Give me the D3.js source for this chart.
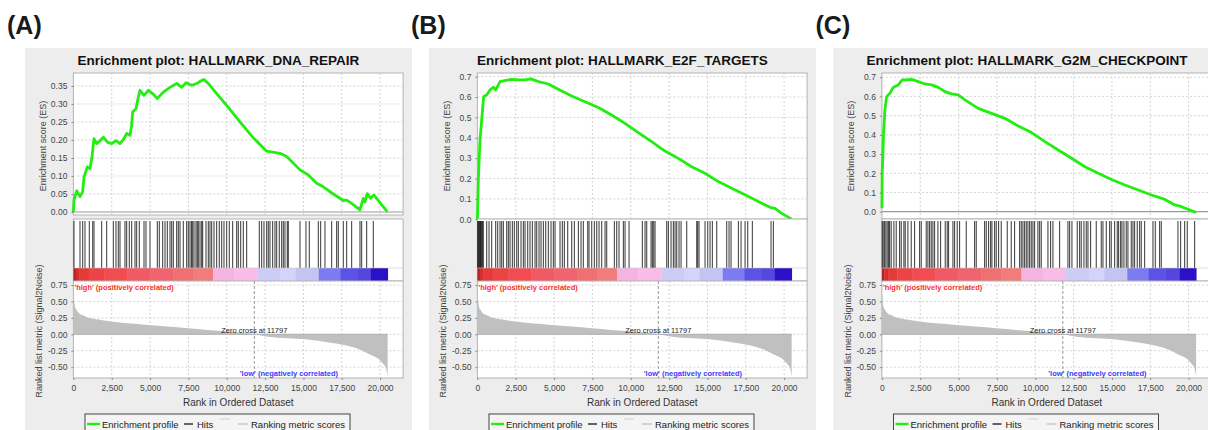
<!DOCTYPE html>
<html><head><meta charset="utf-8">
<script src="https://cdn.jsdelivr.net/npm/d3@7"></script>
<style>
body{margin:0;background:#fff;}
svg{display:block;font-family:"Liberation Sans",Arial,sans-serif;}
</style>
</head><body>
<svg id="c" width="1208" height="430"></svg>
<script>
// ---------------- DATA ----------------
const panelLabels = ["(A)", "(B)", "(C)"];
const titles = ["Enrichment plot: HALLMARK_DNA_REPAIR", "Enrichment plot: HALLMARK_E2F_TARGETS", "Enrichment plot: HALLMARK_G2M_CHECKPOINT"];
const totalGenes = 20500;
const zeroCross = 11797;
const xTickValues = [0, 2500, 5000, 7500, 10000, 12500, 15000, 17500, 20000];
const xTickLabels = ["0", "2,500", "5,000", "7,500", "10,000", "12,500", "15,000", "17,500", "20,000"];
const esTickValuesA = [0, 0.05, 0.10, 0.15, 0.20, 0.25, 0.30, 0.35];
const esTickLabelsA = ["0.00", "0.05", "0.10", "0.15", "0.20", "0.25", "0.30", "0.35"];
const esTickValuesBC = [0, 0.1, 0.2, 0.3, 0.4, 0.5, 0.6, 0.7];
const esTickLabelsBC = ["0.0", "0.1", "0.2", "0.3", "0.4", "0.5", "0.6", "0.7"];
const metricTickValues = [0.75, 0.5, 0.25, 0, -0.25, -0.5];
const metricTickLabels = ["0.75", "0.50", "0.25", "0.00", "-0.25", "-0.50"];

// ranked list metric (Signal2Noise), shared by all three panels
const metricRanks = [0, 20, 60, 104, 180, 280, 420, 606, 850, 1148, 1800, 2451, 3538, 4843, 6146, 7452, 8755, 10060, 11364, 11797, 12668, 13972, 15276, 16580, 17884, 18751, 19403, 19840, 20166, 20382, 20492];
const metricValues = [0.63, 0.598, 0.5, 0.42, 0.38, 0.344, 0.31, 0.293, 0.265, 0.243, 0.218, 0.193, 0.167, 0.142, 0.117, 0.091, 0.066, 0.041, 0.015, 0, -0.036, -0.061, -0.08, -0.12, -0.175, -0.239, -0.315, -0.366, -0.442, -0.518, -0.64];

// running enrichment scores
const esRanksA = [0, 39, 215, 430, 605, 691, 906, 1082, 1213, 1343, 1517, 1734, 1951, 2212, 2496, 2777, 3038, 3299, 3473, 3690, 3799, 3864, 4082, 4233, 4342, 4603, 4884, 5170, 5470, 5861, 6298, 6735, 7061, 7342, 7713, 8039, 8365, 8515, 8796, 9343, 9995, 10862, 11729, 12603, 13470, 13907, 14774, 15317, 15862, 16296, 16948, 17598, 17818, 18144, 18686, 18903, 19012, 19163, 19382, 19600, 20466];
const esValuesA = [0, 0.033, 0.059, 0.043, 0.056, 0.097, 0.125, 0.120, 0.153, 0.204, 0.190, 0.198, 0.208, 0.194, 0.190, 0.198, 0.190, 0.204, 0.218, 0.213, 0.241, 0.278, 0.287, 0.319, 0.338, 0.324, 0.338, 0.329, 0.315, 0.333, 0.346, 0.357, 0.346, 0.359, 0.352, 0.357, 0.365, 0.368, 0.357, 0.329, 0.296, 0.250, 0.206, 0.169, 0.163, 0.154, 0.117, 0.103, 0.080, 0.070, 0.050, 0.032, 0.033, 0.024, 0.006, 0.038, 0.028, 0.051, 0.038, 0.047, 0.001];

const esRanksB = [0, 60, 170, 280, 410, 606, 822, 1037, 1193, 1474, 1800, 2236, 2670, 3103, 3494, 3973, 4623, 5275, 6146, 7015, 7883, 8755, 9623, 10490, 11364, 12231, 13099, 13972, 14840, 15707, 16580, 17448, 18315, 19078, 19403, 19840, 20492];
const esValuesB = [0, 0.193, 0.389, 0.488, 0.603, 0.610, 0.635, 0.648, 0.635, 0.676, 0.681, 0.687, 0.684, 0.684, 0.689, 0.676, 0.664, 0.638, 0.605, 0.577, 0.549, 0.512, 0.471, 0.425, 0.381, 0.335, 0.299, 0.258, 0.226, 0.185, 0.152, 0.120, 0.087, 0.059, 0.054, 0.029, 0.001];

const esRanksC = [0, 20, 110, 196, 306, 522, 737, 1063, 1325, 1610, 1936, 2369, 2804, 3238, 3673, 4108, 4542, 4977, 5412, 6281, 7150, 8020, 8889, 9758, 10628, 11497, 12366, 13236, 14105, 14974, 15844, 16713, 17582, 18452, 19104, 19540, 19975, 20408, 20480];
const esValuesC = [0.018, 0.2, 0.408, 0.529, 0.599, 0.616, 0.647, 0.660, 0.686, 0.686, 0.689, 0.677, 0.665, 0.660, 0.647, 0.625, 0.613, 0.608, 0.582, 0.538, 0.512, 0.486, 0.446, 0.412, 0.365, 0.321, 0.278, 0.234, 0.200, 0.168, 0.139, 0.113, 0.087, 0.064, 0.035, 0.026, 0.012, -0.002, 0.004];

// gene set member positions (hits) in the ranked list
const hitsA = [39, 430, 604, 756, 1039, 1256, 1344, 1843, 2169, 2604, 2777, 2930, 3039, 3365, 3473, 3647, 3799, 4017, 4125, 4299, 4604, 4734, 4995, 5473, 5603, 5820, 5973, 6125, 6299, 6407, 6516, 6733, 6842, 6951, 7168, 7386, 7494, 7603, 7700, 7776, 7864, 7994, 8080, 8146, 8255, 8364, 8428, 8646, 8798, 8907, 9016, 9168, 9342, 9515, 9668, 9820, 9994, 10167, 10385, 10646, 10754, 10907, 11080, 11298, 12123, 12276, 12428, 12602, 12710, 12819, 12993, 13145, 13254, 13427, 13580, 13689, 13797, 13950, 14015, 14775, 15166, 15383, 15971, 16123, 16405, 16840, 17166, 17275, 17601, 17818, 18144, 18688, 18796, 19122, 19557];
const hitsB = [20, 62, 110, 149, 200, 236, 290, 322, 388, 605, 757, 932, 1192, 1323, 1475, 1584, 1693, 1910, 2018, 2127, 2280, 2410, 2562, 2671, 2845, 2997, 3106, 3280, 3432, 3584, 3758, 3867, 4019, 4149, 4302, 4454, 4627, 4801, 4953, 5062, 5388, 5540, 5671, 5889, 6150, 6323, 6585, 6758, 6910, 7193, 7279, 7454, 7628, 7780, 7932, 8106, 8324, 8432, 8932, 9084, 9236, 9519, 9628, 9888, 10758, 10932, 11040, 11323, 11410, 11498, 11584, 12345, 12454, 12627, 12780, 12889, 12998, 13150, 13280, 13649, 14302, 14367, 14454, 14845, 15019, 15171, 15323, 15606, 16258, 16410, 16541, 17020, 17193, 17454, 17628, 17931, 19149, 19302];
const hitsC = [20, 87, 174, 260, 347, 435, 500, 608, 782, 935, 1152, 1261, 1434, 1522, 1695, 1913, 2130, 2457, 2565, 2892, 3000, 3109, 3217, 3326, 3435, 3652, 3827, 4131, 4261, 4348, 4631, 4739, 4913, 5066, 5501, 6044, 6153, 6696, 6805, 6957, 7087, 7175, 7348, 7457, 7609, 7783, 8174, 8435, 8652, 8979, 9087, 9196, 9305, 9414, 9522, 9631, 9740, 9849, 9957, 10174, 10284, 10392, 10827, 11000, 11153, 11588, 12131, 12240, 12392, 12739, 12892, 13001, 13174, 13327, 13436, 13609, 13979, 14305, 14414, 14632, 14849, 14957, 15175, 15348, 15436, 15566, 15653, 15783, 15936, 16044, 16262, 16371, 16479, 16653, 16806, 16914, 17132, 17676, 17828, 18109, 18219, 19306, 19479, 19741, 19914, 20393];

// heat-map bar along the ranked list
const colorBarBreaks = [0, 150, 400, 1000, 2000, 3500, 5000, 6500, 7800, 9100, 10500, 12000, 13500, 14500, 16000, 17400, 18500, 19400, 20500];
const colorBarColors = ["#b42424", "#d42e2e", "#e43a3a", "#ec4444", "#f04c52", "#f05a64", "#f06470", "#ee7070", "#f07c7c", "#f4b4e2", "#f8bce6", "#ccccf6", "#d4d4fa", "#c4c4f2", "#7c7cf2", "#5c52e4", "#5446de", "#2c10c8"];

// ---------------- DRAWING ----------------
const svg = d3.select("#c");
const panels = [
  {dx: 0, esR: esRanksA, esV: esValuesA, hits: hitsA, esTicks: esTickValuesA, esLabels: esTickLabelsA, esDomain: [-0.0083, 0.386], esBottom: 215},
  {dx: 404, esR: esRanksB, esV: esValuesB, hits: hitsB, esTicks: esTickValuesBC, esLabels: esTickLabelsBC, esDomain: [-0.0034, 0.718], esBottom: 220},
  {dx: 808.5, esR: esRanksC, esV: esValuesC, hits: hitsC, esTicks: esTickValuesBC, esLabels: esTickLabelsBC, esDomain: [-0.038, 0.722], esBottom: 219}
];
const X0 = 73.4, X1 = 403.1;
const ES_TOP = 73, HITS_TOP = 221, HITS_BOT = 268, CB_BOT = 281, M_TOP = 281, M_BOT = 378;
const FONT = '"Liberation Sans",Arial,sans-serif';

panels.forEach((p, i) => {
  const g = svg.append("g").attr("transform", `translate(${p.dx},0)`);
  g.append("rect").attr("x", 25).attr("y", 48).attr("width", 387).attr("height", 400).attr("fill", "#ededed");
  g.append("text").attr("x", 7).attr("y", 34).text(panelLabels[i])
    .style("font-size", "25px").style("font-weight", "bold").attr("fill", "#1a1a1a");
  g.append("text").attr("x", 218.5).attr("y", 65).attr("text-anchor", "middle").text(titles[i])
    .style("font-size", "13.5px").style("font-weight", "bold").attr("fill", "#111");

  const x = d3.scaleLinear().domain([0, 21500]).range([X0, X1]);
  const yES = d3.scaleLinear().domain(p.esDomain).range([p.esBottom, ES_TOP]);
  const yM = d3.scaleLinear().domain([-0.665, 0.811]).range([M_BOT, M_TOP]);

  // ---- ES plot ----
  g.append("rect").attr("x", X0).attr("y", ES_TOP).attr("width", X1 - X0).attr("height", p.esBottom - ES_TOP)
    .attr("fill", "#fff").attr("stroke", "#b4b4b4").attr("stroke-width", 1);
  g.selectAll(".vgES").data(xTickValues.slice(1)).join("line")
    .attr("x1", d => x(d)).attr("x2", d => x(d)).attr("y1", ES_TOP).attr("y2", p.esBottom)
    .attr("stroke", "#d4d4d4").attr("stroke-dasharray", "2,2");
  g.selectAll(".hgES").data(p.esTicks.slice(1)).join("line")
    .attr("x1", X0).attr("x2", X1).attr("y1", d => yES(d)).attr("y2", d => yES(d))
    .attr("stroke", "#d4d4d4").attr("stroke-dasharray", "2,2");
  g.append("line").attr("x1", X0).attr("x2", X1).attr("y1", yES(0)).attr("y2", yES(0))
    .attr("stroke", "#9a9a9a").attr("stroke-width", 1.2);
  const esPts = p.esR.map((r, k) => [r, p.esV[k]]);
  g.append("path").datum(esPts)
    .attr("d", d3.line().x(d => x(d[0])).y(d => yES(d[1])))
    .attr("fill", "none").attr("stroke", "#22ee11").attr("stroke-width", 2.8).attr("stroke-linejoin", "round");
  const axES = d3.axisLeft(yES).tickValues(p.esTicks).tickFormat((d, k) => p.esLabels[k]).tickSize(2).tickPadding(4);
  const gES = g.append("g").attr("transform", `translate(${X0},0)`).call(axES);
  gES.select(".domain").remove();
  gES.selectAll("text").style("font-size", "8.5px").attr("fill", "#444").style("font-family", FONT);
  gES.selectAll("line").attr("stroke", "#888");
  g.append("text").attr("transform", `translate(45.5,146) rotate(-90)`).attr("text-anchor", "middle")
    .text("Enrichment score (ES)").style("font-size", "9px").attr("fill", "#444");

  // ---- hits ----
  g.append("rect").attr("x", X0).attr("y", HITS_TOP - 2).attr("width", X1 - X0).attr("height", CB_BOT - HITS_TOP + 2)
    .attr("fill", "#fff").attr("stroke", "#b4b4b4").attr("stroke-width", 1);
  g.selectAll(".hit").data(p.hits).join("line")
    .attr("x1", d => x(d)).attr("x2", d => x(d)).attr("y1", HITS_TOP).attr("y2", HITS_BOT)
    .attr("stroke", "#000").attr("stroke-width", 1.1).attr("stroke-opacity", 0.72);

  // ---- colour bar ----
  g.selectAll(".cb").data(colorBarColors).join("rect")
    .attr("x", (d, k) => x(colorBarBreaks[k])).attr("y", HITS_BOT)
    .attr("width", (d, k) => x(colorBarBreaks[k + 1]) - x(colorBarBreaks[k]) + 0.3)
    .attr("height", CB_BOT - HITS_BOT).attr("fill", d => d);
  g.append("line").attr("x1", X0).attr("x2", X1).attr("y1", HITS_BOT).attr("y2", HITS_BOT).attr("stroke", "#c8c8c8").attr("stroke-width", 0.6);

  // ---- metric plot ----
  g.append("rect").attr("x", X0).attr("y", M_TOP).attr("width", X1 - X0).attr("height", M_BOT - M_TOP)
    .attr("fill", "#fff").attr("stroke", "#b4b4b4").attr("stroke-width", 1);
  g.selectAll(".vgM").data(xTickValues.slice(1)).join("line")
    .attr("x1", d => x(d)).attr("x2", d => x(d)).attr("y1", M_TOP).attr("y2", M_BOT)
    .attr("stroke", "#d4d4d4").attr("stroke-dasharray", "2,2");
  g.selectAll(".hgM").data(metricTickValues).join("line")
    .attr("x1", X0).attr("x2", X1).attr("y1", d => yM(d)).attr("y2", d => yM(d))
    .attr("stroke", "#d4d4d4").attr("stroke-dasharray", "2,2");
  const mPts = metricRanks.map((r, k) => [r, metricValues[k]]);
  g.append("path").datum(mPts)
    .attr("d", d3.area().x(d => x(d[0])).y0(yM(0)).y1(d => yM(d[1])).curve(d3.curveMonotoneX))
    .attr("fill", "#c0c0c0");
  g.append("line").attr("x1", X0).attr("x2", x(totalGenes)).attr("y1", yM(0)).attr("y2", yM(0))
    .attr("stroke", "#b0b0b0").attr("stroke-width", 1);
  g.append("line").attr("x1", x(zeroCross)).attr("x2", x(zeroCross)).attr("y1", M_TOP).attr("y2", M_BOT)
    .attr("stroke", "#999").attr("stroke-dasharray", "3,2").attr("stroke-width", 1);
  g.append("text").attr("x", x(zeroCross)).attr("y", 333).attr("text-anchor", "middle")
    .text("Zero cross at " + zeroCross).style("font-size", "7.5px").attr("fill", "#222");
  g.append("text").attr("x", X0 + 1).attr("y", 290).text("'high' (positively correlated)")
    .style("font-size", "7.5px").style("font-weight", "bold").attr("fill", "#ff2a2a");
  g.append("text").attr("x", 338).attr("y", 376).attr("text-anchor", "end").text("'low' (negatively correlated)")
    .style("font-size", "7.5px").style("font-weight", "bold").attr("fill", "#3a3aff");

  const axM = d3.axisLeft(yM).tickValues(metricTickValues).tickFormat((d, k) => metricTickLabels[k]).tickSize(2).tickPadding(4);
  const gM = g.append("g").attr("transform", `translate(${X0},0)`).call(axM);
  gM.select(".domain").remove();
  gM.selectAll("text").style("font-size", "8.5px").attr("fill", "#444").style("font-family", FONT);
  gM.selectAll("line").attr("stroke", "#888");
  g.append("text").attr("transform", `translate(42,331) rotate(-90)`).attr("text-anchor", "middle")
    .text("Ranked list metric (Signal2Noise)").style("font-size", "9px").attr("fill", "#444");

  const axX = d3.axisBottom(x).tickValues(xTickValues).tickFormat((d, k) => xTickLabels[k]).tickSize(2).tickPadding(5);
  const gX = g.append("g").attr("transform", `translate(0,${M_BOT})`).call(axX);
  gX.select(".domain").remove();
  gX.selectAll("text").style("font-size", "8.5px").attr("fill", "#444").style("font-family", FONT);
  gX.selectAll("line").attr("stroke", "#888");
  g.append("text").attr("x", (X0 + X1) / 2).attr("y", 406).attr("text-anchor", "middle")
    .text("Rank in Ordered Dataset").style("font-size", "10px").attr("fill", "#333");

  // ---- legend ----
  g.append("rect").attr("x", 85).attr("y", 414).attr("width", 265).attr("height", 22)
    .attr("fill", "#f4f4f4").attr("stroke", "#444").attr("stroke-width", 1);
  g.append("line").attr("x1", 87).attr("x2", 100).attr("y1", 424).attr("y2", 424).attr("stroke", "#22ee11").attr("stroke-width", 2.4);
  g.append("text").attr("x", 102).attr("y", 427.5).text("Enrichment profile").style("font-size", "9.5px").attr("fill", "#222");
  g.append("line").attr("x1", 184).attr("x2", 193).attr("y1", 424).attr("y2", 424).attr("stroke", "#333").attr("stroke-width", 1.5);
  g.append("text").attr("x", 197).attr("y", 427.5).text("Hits").style("font-size", "9.5px").attr("fill", "#222");
  g.append("line").attr("x1", 220).attr("x2", 230).attr("y1", 419).attr("y2", 419).attr("stroke", "#dcdcdc").attr("stroke-width", 1.5);
  g.append("line").attr("x1", 238).attr("x2", 248).attr("y1", 424).attr("y2", 424).attr("stroke", "#c8c8c8").attr("stroke-width", 1.5);
  g.append("text").attr("x", 251).attr("y", 427.5).text("Ranking metric scores").style("font-size", "9.5px").attr("fill", "#222");
});
</script>
</body></html>
